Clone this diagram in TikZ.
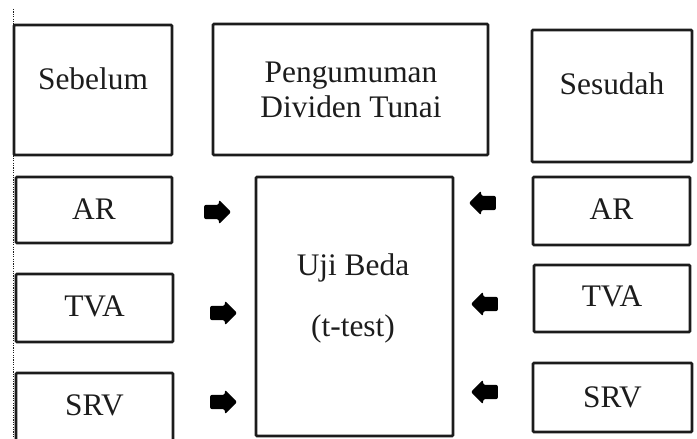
\documentclass[tikz,border=0pt]{standalone}
\usepackage{fontspec}
\setmainfont{Liberation Serif}
\usetikzlibrary{shapes.arrows}
\definecolor{ink}{HTML}{1C1C1C}
\begin{document}
\begin{tikzpicture}[x=1bp,y=-1bp,
  box/.style={draw=ink, line width=2.6bp, rectangle, inner sep=0pt, rounded corners=1bp},
  lbl/.style={anchor=base, inner sep=0pt, text=ink, font=\fontsize{31.5}{35}\selectfont},
  blockarrow/.style={single arrow, fill=black, draw=none, inner xsep=0pt, inner ysep=7bp,
    minimum height=27bp, minimum width=24bp, single arrow head extend=5bp,
    single arrow head indent=0pt, rounded corners=2bp},
  guide/.style={draw=ink, line width=1.4bp, dash pattern=on 1.2bp off 1.2bp}]
\useasboundingbox (0,0) rectangle (697,439);

% dotted margin line on the left
\coordinate (gtop) at (13.5,9);
\coordinate (gbot) at (13.5,439);
\draw[guide] (gtop) -- (gbot);

% header row
\node[box, minimum width=158bp, minimum height=130bp] (sebelum) at (93,90) {};
\node[lbl] (sebelumT) at (93,90) {Sebelum};
\node[box, minimum width=275bp, minimum height=131bp] (pengumuman) at (350.5,89.5) {};
\node[lbl] (pengumumanA) at (351,83) {Pengumuman};
\node[lbl] (pengumumanB) at (351,118) {Dividen Tunai};
\node[box, minimum width=160bp, minimum height=132bp] (sesudah) at (612,96) {};
\node[lbl] (sesudahT) at (612,95) {Sesudah};

% variables before the announcement
\node[box, minimum width=156bp, minimum height=66bp] (arL) at (94,210) {};
\node[lbl] (arLT) at (94,220) {AR};
\node[box, minimum width=157bp, minimum height=68bp] (tvaL) at (94.5,308) {};
\node[lbl] (tvaLT) at (94.5,317) {TVA};
\node[box, minimum width=157bp, minimum height=68bp] (srvL) at (94.5,407) {};
\node[lbl] (srvLT) at (94.5,415) {SRV};

% difference test
\node[box, minimum width=197bp, minimum height=259bp] (uji) at (354.5,306.5) {};
\node[lbl] (ujiA) at (353,276) {Uji Beda};
\node[lbl] (ujiB) at (353,337) {(t-test)};

% variables after the announcement
\node[box, minimum width=157bp, minimum height=68bp] (arR) at (611.5,211) {};
\node[lbl] (arRT) at (611.5,220) {AR};
\node[box, minimum width=156bp, minimum height=67bp] (tvaR) at (612,298.5) {};
\node[lbl] (tvaRT) at (612,307) {TVA};
\node[box, minimum width=159bp, minimum height=69bp] (srvR) at (612.5,397.5) {};
\node[lbl] (srvRT) at (612.5,407) {SRV};

% block arrows pointing into the test
\node[blockarrow] (aL1) at (214,212) {};
\node[blockarrow] (aL2) at (220,313) {};
\node[blockarrow] (aL3) at (220,402) {};
\node[blockarrow, shape border rotate=180] (aR1) at (486,203) {};
\node[blockarrow, shape border rotate=180] (aR2) at (488,304) {};
\node[blockarrow, shape border rotate=180] (aR3) at (488,392) {};
\end{tikzpicture}
\end{document}
